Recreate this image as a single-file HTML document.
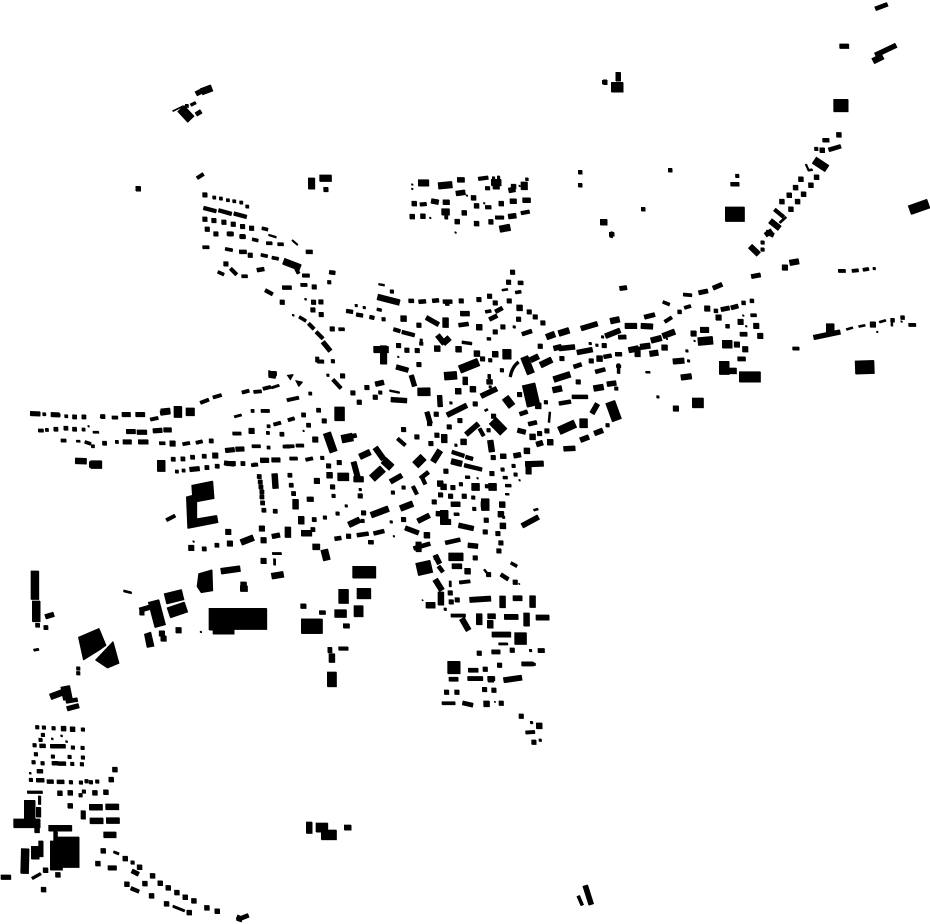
<!DOCTYPE html>
<html><head><meta charset="utf-8"><title>Figure-ground map</title>
<style>html,body{margin:0;padding:0;background:#fff;width:930px;height:924px;overflow:hidden}svg{display:block}.s{stroke-linecap:square}</style></head>
<body>
<svg xmlns="http://www.w3.org/2000/svg" width="930" height="924" viewBox="0 0 930 924" fill="none" stroke="#000">
<g id="m">
<!-- central town -->
<g transform="translate(320 260) scale(.33333)">
<path class="s" stroke-width="5" d="M234 290h0M221 828h0M598 660h0M472 654h0"/>
<path class="s" stroke-width="8" d="M108 136h0M132 142h0M303 240h0M392 428h0M407 555h0M810 250h0M847 230h0M582 200h0M23 345h0M120 688h0M78 737h0M213 785h0M550 771h0M510 380h0M830 255h0"/>
<path class="s" stroke-width="11" d="M505 510h0M180 397h0M547 628h0M580 617h0M500 678h0M462 746h0M677 426h0M27 66h0M215 94h0M190 177h0M295 195h0M303 250h0M38 303h0M510 300h0M545 330h0M6 593h0M586 643h0M422 672h0M459 712h0M40 707h0M14 772h0M52 760h0M127 782h0M888 385h0M862 495h0M250 682h0M218 697h0"/>
<path class="s" stroke-width="14" d="M577 36h0M565 66h0M508 108h0M525 128h0M476 118h0M423 122h0M567 122h0M627 155h0M645 170h0M668 188h0M548 200h0M525 215h0M595 177h0M235 256h0M291 271h0M260 270h0M67 347h0M98 398h0M117 426h0M165 411h0M140 382h0M465 431h0M487 296h0M12 482h0M419 481h0M350 525h0M332 550h0M290 530h0M377 633h0M398 682h0M432 708h0M361 704h0M391 708h0M342 725h0M250 778h0M498 780h0M495 815h0M533 820h0M542 848h0M85 828h0M130 758h0M120 707h0M37 680h0M25 617h0M57 607h0M348 462h0M598 403h0M519 592h0M548 588h0M660 258h0M725 295h0M852 256h0M813 302h0M774 365h0M658 520h0M680 512h0M465 893h0M348 892h0M536 872h0M515 640h0M250 508h0M328 490h0M520 468h0M387 500h0M296 313h0M296 195h0"/>
<path class="s" stroke-width="18" d="M415 267h0M470 280h0M525 282h0M351 265h0M598 143h0M477 201h0M458 387h0M838 295h0M654 437h0M620 572h0M637 530h0M690 546h0M360 670h0M28 645h0M430 545h0M320 825h0M546 733h0M542 762h0M548 797h0M370 680h0M414 393h0M250 175h0"/>
<path stroke-width="6" d="M175 72l18 3M689 455l-3 32M208 391l30 6M555 702h12M640 750l14-4M545 90l18-3M493 452l10-5"/>
<path stroke-width="9" d="M585 97l18-3M170 147l14 3M435 651h14M548 652h14M555 676h18M401 762h16M888 318h14M495 155l18-3M425 246l30 4M507 342v14M500 236h12M895 340v-30"/>
<path stroke-width="12" d="M27 36l18 2M593 68h16M78 152l20 3M108 163l20 3M148 170l14 3M265 122h16M295 125l22-2M336 122l20-2M368 124h28M381 118v18M415 195l30-4M507 178l24-12M423 160h24M525 155l22-12M605 222l30-10M220 207l20 6M75 533l34-8M245 215l38 10M232 535l23 20M38 358l24 26M478 505l12 22M278 678l12 24M300 655l25-20M305 650l10 22M395 575l37 12M432 615l53 13M436 590l22 6M598 462l24-8M624 492l26-6M716 430l36-6M755 410l48 0M825 335l30-8M760 320l24-8M850 290l24-4M885 282h20M280 865l50-15M375 848l45-10M110 825l35-5M160 820l32-8M43 836l20-3M144 846h16"/>
<path stroke-width="15" d="M420 160l28 0M318 172l37 21M228 320l36 10M273 345l10 33M8 245l22 27M212 418l48 3M358 405l2 35M320 455l10 35M380 465l60-30M482 408l48-23M499 365h18M435 350v24M165 372l26-6M437 523l38-33M700 265l24-6M716 265l48-5M782 205l50-15M855 228l45-18M770 277l47-9M822 520l26-10M780 540l26-10M730 566l35-2M580 587l22-4M540 588h18M815 460l17-30M415 795l45 10M255 803l40 15M292 783l36-18M347 760l20 1M210 665l35-20M392 732h28M443 855l30 3M648 553l20-6M592 510l24 6M605 797l50-27M860 372l28-4"/>
<path stroke-width="18" d="M172 110l66 17M376 172v30M678 231l26-10M715 220l32-10M870 183l28-6M660 315l35-17M700 358l50-16M697 390l28-6M820 385l30-5M85 794l34-16M118 590l32-15M165 562l25 35M152 765l53-20M240 745l38-15M393 603l32 8M482 733l22 0M372 522v26M338 605l22-35M510 540l5 35"/>
<path stroke-width="24" d="M372 348l38-3M418 328l57-23M20 518l20 57M155 655l33-30M190 600l24 22M285 615l25-25M716 512l49-22M555 412l20 26M612 290l20 50M790 475v28M52 650h34M385 890h44M495 715v36M292 395h38M64 537l34-7M517 669v22M466 669v22M372 750v40M300 395l30-1"/>
<path stroke-width="22" d="M12 868l8 32"/>
<path stroke-width="30" d="M58 440v42M870 425l20 55M517 481l33 34M547 282l26 0"/>
<path stroke-width="40" d="M625 372l15 65"/>
<path stroke-width="20" d="M160 268h45M190 256v56"/>
<path stroke-width="17" d="M352 225l20 25M368 250l20-18M630 300l25-12M100 605l12 45M100 657h30M360 785h32M295 845v30M625 642v-27M615 612l55-2"/>
<path stroke-width="8" d="M570 350q5-30 25-45"/>
</g>
<!-- west rows and industry -->
<g transform="translate(20 360) scale(.33333)">
<path class="s" stroke-width="5" d="M205 198h0M520 544h0M850 212h0M542 815h0"/>
<path class="s" stroke-width="10" d="M72 162h0M80 209h0M138 168h0M190 208h0M705 313h0M218 258h0M870 100h0M745 198h0M470 334h0M490 331h0M697 152h0M743 218h0M290 245h0M745 262h0"/>
<path class="s" stroke-width="13" d="M163 170h0M191 170h0M248 169h0M107 207h0M137 204h0M163 207h0M253 249h0M573 242h0M459 297h0M488 296h0M517 291h0M552 288h0M560 322h0M591 318h0M668 310h0M717 349h0M720 365h0M722 380h0M725 395h0M725 410h0M727 428h0M731 450h0M809 345h0M813 375h0M820 400h0M765 453h0M882 478h0M878 508h0M590 555h0M552 566h0M785 222h0M850 164h0M895 150h0M52 795h0M77 802h0M865 195h0M870 417h0M849 737h0"/>
<path class="s" stroke-width="17" d="M585 286h0M725 505h0M629 550h0M624 515h0M513 563h0M694 212h0M457 250h0M885 238h0M890 362h0M730 602h0M730 540h0M475 810h0M425 820h0M430 835h0"/>
<path stroke-width="7" d="M168 243h12M777 75l-24 8M642 170l22-6M756 580h28M763 595v20M310 692l24 6M218 216h18M40 870l16-3"/>
<path stroke-width="10" d="M54 211h16M96 163l24 2M275 172h18M240 169l12 1M390 178l24-5M417 249h18M540 128l26-10M578 112l26-8M665 97l22-6M700 95l24-2M728 86l24-6M122 241h16M194 245l18 6M527 248l20-5M487 252l22-4M637 220h26M722 152h26M760 193l22-6M803 180l20-6M836 112l-36 8M796 258h26M827 256h24M695 258h26M788 259h22M808 295h24M856 299l22-5M693 315l20-2M721 303l24-1M756 300l24-1M438 480l27-14"/>
<path stroke-width="14" d="M30 160l30 1M92 163l26 1M305 163h26M346 163h28M420 159l28-4M308 245h26M354 245h30M318 214h28M350 216h30M398 212l28-2M430 209l24 0M615 271l28-3M646 267l26-1M618 310l28 0M508 328l30-3M720 300h26M754 299h26M755 529l24-5M75 770l26-8M860 417l20 0M612 308l30 4"/>
<path stroke-width="18" d="M165 302l34 1M754 648l36-6M422 155l28-3M662 547l38-15M602 633l58-8M843 519h32M803 500v32M763 340l3 45M826 417v30M843 468v24M877 560h22M660 685h22M670 665v24M207 313l36 0"/>
<path stroke-width="24" d="M423 300v34M497 155h26M473 138v34M44 632v86M48 722v63M211 313h34"/>
<path stroke-width="32" d="M435 716l53-13M445 758l53-18"/>
<path stroke-width="34" d="M400 722l20 76"/>
<path stroke-width="14" d="M358 750l37-11M365 745v20M745 40h24"/>
<path fill="#000" stroke="none" d="M514 375L578 362L582 415L530 425L530 475L590 465L594 487L502 505L498 410L516 405ZM535 640L576 628L578 692L542 698L530 680ZM566 744H740V808H642V822H578V810H566ZM843 776H900V820H843ZM372 822L392 815L402 858L380 862ZM745 30L770 38L765 55L745 52ZM800 45L820 42L810 60ZM825 60L848 65L835 80Z"/>
</g>
<path fill="#000" d="M78 637L99 628L106 645L99 650L83 660ZM95 660L113 641L119 663L107 668Z" stroke="none"/>
<!-- south-west -->
<g transform="translate(0 660) scale(.33333)">
<path class="s" stroke-width="6" d="M156 236h0M184 227h0M90 339h0M199 244h0"/>
<path class="s" stroke-width="11" d="M234 39h0M234 25h0M128 224h0M121 239h0M158 289h0M208 290h0M103 255h0M218 262h0M100 306h0M127 309h0M216 311h0M245 312h0M212 366h0M242 367h0M259 363h0M272 366h0M291 364h0M160 204h0M111 201h0M131 202h0M248 208h0M247 263h0M248 292h0M92 359h0M241 405h0M251 394h0M107 282h0M397 607h0"/>
<path class="s" stroke-width="15" d="M375 595h0M418 621h0M434 670h0M457 647h0M480 669h0M504 683h0M530 697h0M555 711h0M581 722h0M454 707h0M620 743h0M651 753h0M499 731h0M567 757h0M309 572h0M293 610h0M179 399h0M210 398h0M284 398h0M317 396h0M210 437h0M190 205h0M217 207h0M344 328h0M333 358h0M136 630h0M173 644h0M130 688h0M380 672h0"/>
<path stroke-width="8" d="M340 575l16 6M518 738l35 14M95 655l27-15M81 396h46M118 407v26"/>
<path stroke-width="12" d="M118 257h18M150 258h46M155 309h20M173 310h24M108 360h24M140 364h20M170 365h22M110 333h18M392 684l24 10M197 124l35-6M710 775l15 5M720 775l25-10"/>
<path stroke-width="14" d="M200 146l36-10M395 632l20 10M249 451v26M115 441v30M710 770l14 6M323 623h26M2 651h30M122 590v-48"/>
<path stroke-width="18" d="M150 110l40-15M267 441h40M316 440h40M269 482h40M318 481h40M310 524h38M145 504h70"/>
<path stroke-width="28" d="M195 78l8 40"/>
<path stroke-width="24" d="M75 565l-2 75M105 597v-39"/>
<path fill="#000" stroke="none" d="M72 420H105V476H120V503H118V518H103V503H40V476H72ZM160 514H172V530H237V622H187V630H150V542H160Z"/>
</g>
<!-- north-west slope -->
<g transform="translate(170 160) scale(.33333)">
<path class="s" stroke-width="6" d="M406 417h0M369 465h0"/>
<path class="s" stroke-width="10" d="M132 112h0M152 115h0M173 120h0M192 123h0M213 127h0M231 139h0"/>
<path class="s" stroke-width="14" d="M104 104h0M104 177h0M131 181h0M161 186h0M189 192h0M217 199h0M244 204h0M111 207h0M137 221h0M180 221h0M217 229h0M467 88h0M430 426h0M452 425h0M428 449h0M453 463h0M240 285h0M336 426h0M167 311h0M486 506h0M432 380h0"/>
<path stroke-width="6" d="M295 224l23 7M366 240l16 14"/>
<path stroke-width="10" d="M97 261h20M165 266l22 4M272 284l20 4M305 292l20 4M246 237l18 4M288 249h18M322 252h18M275 204l18 4M143 335l18 8M214 348h18M505 507h18M391 374h20M387 470l20 12M80 54l20-13"/>
<path stroke-width="12" d="M100 143l38 10M191 160l38 10M145 150l39 11M407 275h20M208 229h18M170 221h20M207 275l22 0M260 330l22-4M336 382h28M285 390l22 12M415 490l16 16M438 515l20 20M181 325l18 18"/>
<path stroke-width="20" d="M340 303l50 19M424 53v34M448 54h36"/>
<path stroke-width="11" d="M375 320l10 20M396 346l22 0M441 604h20M441 590v16"/>
</g>
<!-- south quarter -->
<g transform="translate(400 540) scale(.33333)">
<path class="s" stroke-width="4" d="M67 180h0M357 131h0M284 485h0"/>
<path class="s" stroke-width="8" d="M135 207h0M394 547h0M420 600h0M391 331h0M402 372h0"/>
<path class="s" stroke-width="14" d="M345 126h0M265 103h0M150 158h0M153 185h0M171 179h0M237 339h0M336 330h0M255 387h0M298 375h0M363 528h0M401 606h0M253 448h0M281 450h0M303 489h0M170 456h0M139 456h0"/>
<path class="s" stroke-width="18" d="M417 557h0M202 93h0M272 417h0M259 491h0"/>
<path stroke-width="7" d="M295 311h28M252 88l8 10M150 122v18"/>
<path stroke-width="10" d="M332 68l18 10M125 489h40M152 226h44M177 127l33-4M376 577l28-2"/>
<path stroke-width="13" d="M204 390h30M274 335h26M413 331h20M364 371h36M146 417h28M202 415h46M262 415h22M187 488l31 7M302 103l22 14M115 78l13 17"/>
<path stroke-width="16" d="M105 45l13 25M155 78h30M208 179l64-4M338 174h28M312 230h42M407 232h40M275 283h57M262 228l24 0"/>
<path stroke-width="18" d="M307 167v36M397 166v36M237 220v34M379 218v40M270 240v24M105 118l20 32M122 155v40M77 195h28M185 235l20 35"/>
<path stroke-width="36" d="M343 295h36"/>
<path stroke-width="38" d="M142 382h38M50 88l44-10"/>
<path stroke-width="16" d="M310 420l55-8"/>
</g>
<!-- east strip -->
<g transform="translate(600 260) scale(.33333)">
<path class="s" stroke-width="5" d="M283 242h0M438 198h0M429 166h0M200 236h0M831 215h0M904 184h0"/>
<path class="s" stroke-width="8" d="M260 272h0M265 302h0M822 25h0M173 410h0"/>
<path class="s" stroke-width="12" d="M238 155h0M347 152h0M430 128h0M455 122h0M382 198h0M877 180h0M907 172h0"/>
<path class="s" stroke-width="17" d="M554 22h0M321 145h0M280 220h0M355 172h0M468 197h0M480 227h0M421 185h0M435 267h0M227 445h0M818 193h0M410 253h0M690 205h0"/>
<path stroke-width="6" d="M136 336h14M738 208l20-6M775 199l20-4M837 186l20-6M875 186v12"/>
<path stroke-width="10" d="M577 265h20M714 32h22M755 32l20-2M788 29l18-3M249 103l26 2M188 125l20 8M252 143l20-6M193 185l22-14M451 165h18M925 194h22"/>
<path stroke-width="13" d="M453 49l28-5M295 98l28-6M338 84l28-12M362 148l26-5M392 143l22-6M419 222h22M412 296h24M58 85l22-3M54 231l24-1M132 171l32-8"/>
<path stroke-width="17" d="M74 197h36M122 197l36 2M187 228l37-14M152 241l32-8M85 270l30-6M120 260l30-4M112 260v30M148 281l26-4M184 262h18M300 209h26M218 304l34-3M242 352l32-4M568 8l28-5"/>
<path stroke-width="24" d="M293 244l45-4M366 252h30M690 190v30"/>
<path stroke-width="14" d="M640 232l80-17"/>
<path stroke-width="30" d="M276 428h34"/>
<path stroke-width="40" d="M357 323h30M765 322l57-2"/>
<path stroke-width="32" d="M417 350h64"/>
<path stroke-width="18" d="M387 332h22"/>
</g>
<!-- north cluster -->
<g transform="translate(400 165) scale(.33333)">
<path class="s" stroke-width="5" d="M36 58h0M36 71h0M200 91h0M252 114h0M90 158h0M166 202h0M358 62h0"/>
<path class="s" stroke-width="9" d="M380 42h0"/>
<path class="s" stroke-width="15" d="M42 115h0M68 153h0M36 154h0M220 98h0M229 122h0M303 115h0M229 175h0M171 169h0M340 64h0M192 143h0"/>
<path stroke-width="11" d="M234 41l30-4M255 69h14M255 126h18M285 157h26M362 144l26-5M59 118l20-2"/>
<path stroke-width="15" d="M167 85l28-4M93 107l22 4M128 111h20M329 108h20M367 105h24M325 76l20-4M171 44h22M324 154l24-3M265 170h14"/>
<path stroke-width="20" d="M54 53h32M114 62l42-4M278 62h20M273 52h30M298 192l32-6M124 140h24M133 152h10M372 50v24"/>
<path stroke-width="8" d="M280 34v16M295 32v16"/>
</g>
<!-- north-east arm -->
<g transform="translate(720 0) scale(.33333)">
<path class="s" stroke-width="11" d="M288 446h0M51 527h0M127 727h0M127 748h0"/>
<path class="s" stroke-width="15" d="M289 531h0M272 555h0M207 585h0M250 582h0M232 604h0M185 604h0M212 627h0M356 404h0M306 450h0M242 537h0M226 562h0"/>
<path stroke-width="6" d="M257 492l8 18l12-2M178 668l20-18"/>
<path stroke-width="12" d="M465 26l37-14M163 628l27 22M307 420h20M325 449l37-11M31 552h26"/>
<path stroke-width="14" d="M465 165l63-30M358 138h28M137 695l23 10M135 705l20-14"/>
<path stroke-width="18" d="M458 183l30-15M90 738l25 24M150 662l28 22"/>
<path stroke-width="24" d="M282 480l38 25"/>
<path stroke-width="28" d="M568 630l57-20"/>
<path stroke-width="38" d="M340 316h44"/>
<path stroke-width="44" d="M15 642h58"/>
</g>
<!-- detail clusters -->
<g transform="translate(165 75) scale(.33333)">
<path stroke-width="14" d="M92 56l16-8"/><path stroke-width="20" d="M108 50l32-12"/><path stroke-width="8" d="M76 90l16-8"/><path stroke-width="12" d="M92 118l16-10"/><path stroke-width="28" d="M47 100l30 32"/><path stroke-width="3" d="M22 108l33-16"/><path stroke-width="10" d="M60 92h10"/>
</g>
<g transform="translate(570 875) scale(.33333)">
<path stroke-width="16" d="M45 31l18 57"/><path stroke-width="10" d="M24 62l12 28"/>
</g>
<g transform="translate(295 810) scale(.33333)">
<path stroke-width="18" d="M42 35v35"/><path stroke-width="28" d="M62 52h36"/><path stroke-width="30" d="M78 74h46"/><path stroke-width="16" d="M147 52h21"/>
</g>
<g transform="translate(295 560) scale(.33333)">
<path stroke-width="36" d="M172 36h70"/><path stroke-width="30" d="M145 87v43"/><path stroke-width="32" d="M185 100h42"/><path stroke-width="24" d="M118 160h36"/><path stroke-width="28" d="M190 136v34"/><path stroke-width="14" d="M16 138h17M144 197h19"/><path stroke-width="12" d="M72 157h19"/><path stroke-width="44" d="M18 198h64"/><path stroke-width="13" d="M104 261v17"/><path stroke-width="11" d="M130 265h29"/><path stroke-width="18" d="M110 280v27"/><path stroke-width="28" d="M110 335v45"/>
</g>
<!-- scattered global buildings -->
<path stroke-width="4" d="M604 80v4M668 170h4M641 209h4M578 172h4M578 185h4M609 234h5"/>
<path stroke-width="5" d="M138 186v5M618 72v9M603 82h4"/>
<path stroke-width="6" d="M600 222h7M610 234l3 1"/>
<path stroke-width="10" d="M611 87h12"/>
</g>
<use href="#m" x=".5" y=".5"/>
</svg>
</body></html>
